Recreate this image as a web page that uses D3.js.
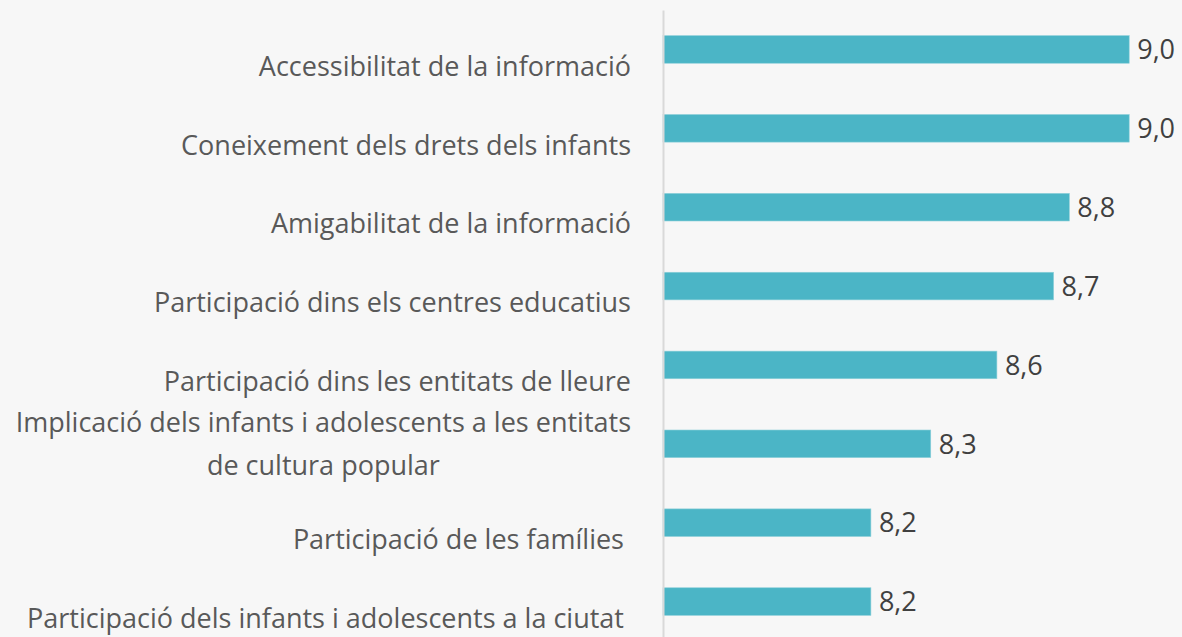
<!DOCTYPE html>
<html>
<head>
<meta charset="utf-8">
<script src="https://cdn.jsdelivr.net/npm/d3@7"></script>
<style>
	body { margin: 0; background: #f7f7f7; }
	svg { display: block; }
</style>
</head>
<body>
<svg id="chart" width="1182" height="637"></svg>
<script>
var categories = [
	"Accessibilitat de la informació",
	"Coneixement dels drets dels infants",
	"Amigabilitat de la informació",
	"Participació dins els centres educatius",
	"Participació dins les entitats de lleure",
	"Implicació dels infants i adolescents a les entitats\nde cultura popular",
	"Participació de les famílies ",
	"Participació dels infants i adolescents a la ciutat "
];
var values = [8.98, 8.98, 8.79, 8.74, 8.56, 8.35, 8.16, 8.16];

var svg = d3.select('#chart');
var width = +svg.attr('width');
var height = +svg.attr('height');

var axisX = 663;
var labelRight = 631;
var lineHeight = 43;

var x = d3.scaleLinear()
	.domain([7.5, 9.5])
	.range([axisX, axisX + 630]);

var y = d3.scaleBand()
	.domain(categories)
	.range([10, 641])
	.paddingInner(0.65)
	.paddingOuter(0.325);

svg.append('rect')
	.attr('width', width)
	.attr('height', height)
	.attr('fill', '#f7f7f7');

// bars
svg.append('g')
	.selectAll('rect')
	.data(values)
	.join('rect')
		.attr('x', x(7.5))
		.attr('y', function(d, i) { return y(categories[i]); })
		.attr('width', function(d) { return x(d) - x(7.5); })
		.attr('height', y.bandwidth())
		.attr('fill', '#4bb5c6')
		.attr('stroke', '#8fd0da')
		.attr('stroke-width', 0.6);

// vertical axis line
var axisG = svg.append('g')
	.attr('transform', `translate(${axisX}, 0)`)
	.call(d3.axisLeft(y).tickSize(0).tickSizeOuter(0).tickFormat(''));
axisG.select('.domain')
	.attr('stroke', '#d9d9d9')
	.attr('stroke-width', 2);

// value labels
var fmt = d3.format('.1f');
svg.append('g')
	.selectAll('text')
	.data(values)
	.join('text')
		.attr('x', function(d) { return x(d) + 8; })
		.attr('y', function(d, i) { return y(categories[i]) + y.bandwidth() / 2; })
		.attr('dy', '0.36em')
		.attr('font-family', 'Open Sans')
		.attr('font-size', 27)
		.attr('fill', '#404040')
		.text(function(d) { return fmt(d).replace('.', ','); });

// category labels
var labelG = svg.append('g')
	.attr('font-family', 'Open Sans')
	.attr('font-size', 27)
	.attr('fill', '#595959');

categories.forEach(function(c, i) {
	var lines = c.split('\n');
	var cy = y(c) + y.bandwidth() / 2;
	// single-line labels sit half a line below the bar centre
	var first = lines.length == 1 ? cy + lineHeight / 2 - 5 : cy - (lines.length - 1) * lineHeight / 2;
	var t = labelG.append('text')
		.attr('xml:space', 'preserve')
		.style('white-space', 'pre');
	lines.forEach(function(l, j) {
		t.append('tspan')
			.attr('y', first + j * lineHeight)
			.attr('dy', '0.36em')
			.text(l);
	});
	var maxW = 0;
	t.selectAll('tspan').each(function() {
		maxW = Math.max(maxW, this.getComputedTextLength());
	});
	t.selectAll('tspan')
		.attr('x', labelRight - maxW / 2)
		.attr('text-anchor', 'middle');
});
</script>
</body>
</html>
